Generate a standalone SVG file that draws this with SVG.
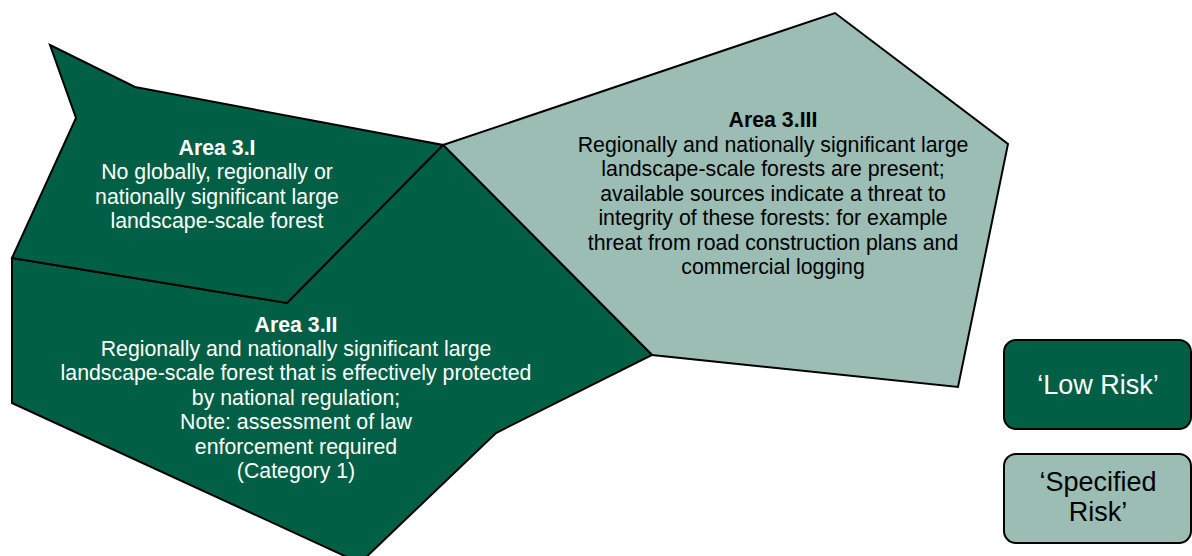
<svg xmlns="http://www.w3.org/2000/svg" width="1192" height="556" viewBox="0 0 1192 556">
<style>
.dark{fill:#005F44;stroke:#000;stroke-width:2;stroke-linejoin:miter}
.light{fill:#9BBDB3;stroke:#000;stroke-width:2;stroke-linejoin:miter}
text{font-family:"Liberation Sans",Arial,sans-serif;font-size:21.3px;text-anchor:middle}
.w{fill:#fff}
.k{fill:#000}
.b{font-weight:bold}
.leg{font-size:27px}
</style>
<rect width="1192" height="556" fill="#fff"/>
<g id="area3III">
<polygon class="light" points="443,145 835,13 1008,144 958,387 652,355"/>
<text class="k b" x="773" y="127">Area 3.III</text>
<text class="k" x="773" y="152">Regionally and nationally significant large</text>
<text class="k" x="773" y="176">landscape-scale forests are present;</text>
<text class="k" x="773" y="201">available sources indicate a threat to</text>
<text class="k" x="773" y="225">integrity of these forests: for example</text>
<text class="k" x="773" y="250">threat from road construction plans and</text>
<text class="k" x="773" y="274">commercial logging</text>
</g>
<g id="area3II">
<polygon class="dark" points="12,258 287,303 443,145 652,355 496,433 360,563 12,403"/>
<text class="w b" x="296" y="332">Area 3.II</text>
<text class="w" x="296" y="356">Regionally and nationally significant large</text>
<text class="w" x="296" y="380">landscape-scale forest that is effectively protected</text>
<text class="w" x="296" y="405">by national regulation;</text>
<text class="w" x="296" y="429">Note: assessment of law</text>
<text class="w" x="296" y="454">enforcement required</text>
<text class="w" x="296" y="478">(Category 1)</text>
</g>
<g id="area3I">
<polygon class="dark" points="50,45 135,87 443,145 287,303 12,258 76,118"/>
<text class="w b" x="217" y="155">Area 3.I</text>
<text class="w" x="217" y="179">No globally, regionally or</text>
<text class="w" x="217" y="204">nationally significant large</text>
<text class="w" x="217" y="228">landscape-scale forest</text>
</g>
<g id="legendLow">
<rect class="dark" x="1004" y="340" width="187" height="89" rx="12"/>
<text class="w leg" x="1098" y="394">‘Low Risk’</text>
</g>
<g id="legendSpecified">
<rect class="light" x="1004" y="454" width="187" height="89" rx="12"/>
<text class="k leg" x="1098" y="491">‘Specified</text>
<text class="k leg" x="1098" y="521">Risk’</text>
</g>
<g id="connectors"></g>
</svg>
